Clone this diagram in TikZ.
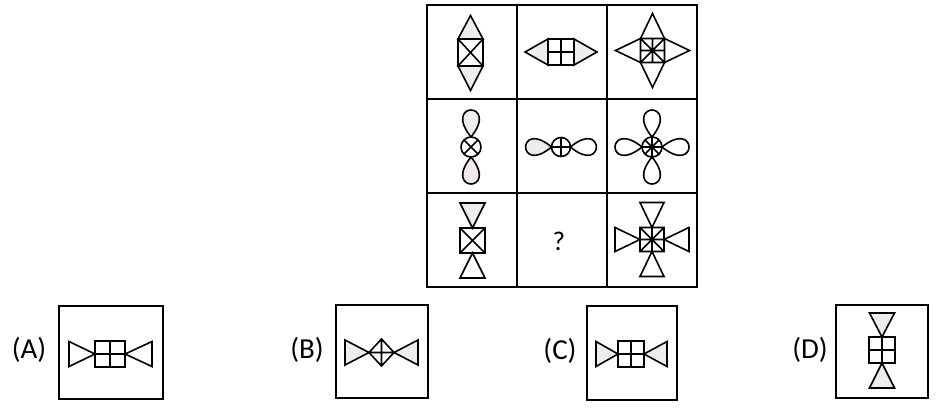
\documentclass[tikz,border=0pt]{standalone}
\usepackage{fontspec}
\setsansfont{Carlito}
\definecolor{shade}{gray}{0.93}
\definecolor{blush}{RGB}{243,232,234}

\begin{document}
\begin{tikzpicture}[x=1pt,y=-1pt,line join=miter,
    fig/.style={line width=1.6pt},
    lit/.style={fill=shade},
    frame/.style={line width=1.8pt},
    tag/.style={font=\sffamily\fontsize{29}{29}\selectfont}]
  \useasboundingbox (0,0) rectangle (943,416);
  % the 3x3 grid
  \draw[frame] (427,5) rectangle (697,287);
  \foreach \x in {517,607} \draw[frame] (\x,5) -- (\x,287);
  \foreach \y in {99,193} \draw[frame] (427,\y) -- (697,\y);

  % row 1: triangles on a square
  \begin{scope}[shift={(470.5,52.5)},fig]
    \filldraw[lit] (-12.5,-13.5) -- (0,-37) -- (12.5,-13.5) -- cycle;
    \filldraw[lit] (-12.5,13.5) -- (0,38) -- (12.5,13.5) -- cycle;
    \draw (-12.5,-13.5) rectangle (12.5,13.5) (-12.5,-13.5) -- (12.5,13.5) (12.5,-13.5) -- (-12.5,13.5);
  \end{scope}
  \begin{scope}[shift={(561,52)},fig]
    \filldraw[lit] (-13,-13) -- (-36,0) -- (-13,13) -- cycle;
    \filldraw[lit] (13,-13) -- (36,0) -- (13,13) -- cycle;
    \draw (-13,-13) rectangle (13,13) (0,-13) -- (0,13) (-13,0) -- (13,0);
  \end{scope}
  \begin{scope}[shift={(652.5,50.5)},fig]
    \draw (-12,-12) -- (0,-37) -- (12,-12) -- (37,0) -- (12,12) -- (0,37) -- (-12,12) -- (-37,0) -- cycle;
    \draw (-12,-12) rectangle (12,12) (-12,-12) -- (12,12) (12,-12) -- (-12,12) (0,-12) -- (0,12) (-12,0) -- (12,0);
    \fill (0,0) circle (2.2pt);
  \end{scope}

  % row 2: loops on a circle
  \begin{scope}[shift={(471,147)},fig]
    \foreach \a/\c in {90/shade,270/blush}
      \filldraw[fill=\c,rotate=\a] (10,0) .. controls (46,-29) and (46,29) .. (10,0);
    \draw (0,0) circle (10pt) (45:10pt) -- (225:10pt) (135:10pt) -- (315:10pt);
  \end{scope}
  \begin{scope}[shift={(561,147)},fig]
    \foreach \a/\c in {0/white,180/shade}
      \filldraw[fill=\c,rotate=\a] (9.5,0) .. controls (44,-29) and (44,29) .. (9.5,0);
    \draw (0,0) circle (9.5pt) (0:9.5pt) -- (180:9.5pt) (90:9.5pt) -- (270:9.5pt);
  \end{scope}
  \begin{scope}[shift={(652,147)},fig]
    \foreach \a in {0,90,180,270}
      \draw[rotate=\a] (10,0) .. controls (46,-29) and (46,29) .. (10,0);
    \draw (0,0) circle (10pt);
    \foreach \a in {0,45,...,135} \draw (\a:10pt) -- (\a+180:10pt);
    \fill (0,0) circle (2.2pt);
  \end{scope}

  % row 3: bow ties on a square
  \begin{scope}[shift={(472.5,240.5)},fig]
    \filldraw[lit] (-12.5,-37.5) -- (12.5,-37.5) -- (0,-12.5) -- cycle;
    \draw (-12.5,37.5) -- (12.5,37.5) -- (0,12.5) -- cycle;
    \draw (-12.5,-12.5) rectangle (12.5,12.5) (-12.5,-12.5) -- (12.5,12.5) (12.5,-12.5) -- (-12.5,12.5);
  \end{scope}
  \node[font=\sffamily\fontsize{27}{27}\selectfont] (qmark) at (559,241) {?};
  \begin{scope}[shift={(652,239.5)},fig]
    \foreach \a in {0,90,180,270}
      \draw[rotate=\a] (12pt,0) -- (37pt,12pt) -- (37pt,-12pt) -- cycle;
    \draw (-12,-12) rectangle (12,12) (-12,-12) -- (12,12) (12,-12) -- (-12,12) (0,-12) -- (0,12) (-12,0) -- (12,0);
    \fill (0,0) circle (2.2pt);
  \end{scope}

  % answer options
  \draw[frame] (59,306) rectangle (163,399);
  \draw[frame] (336,305) rectangle (428,398);
  \draw[frame] (587,306) rectangle (677,400);
  \draw[frame] (836,305) rectangle (928,398);
  \node[tag] (optA) at (29,350) {(A)};
  \node[tag] (optB) at (307,350) {(B)};
  \node[tag] (optC) at (560,351) {(C)};
  \node[tag] (optD) at (810,350) {(D)};

  \begin{scope}[shift={(110,354)},fig]
    \draw (-15,0) -- (-41,-12.5) -- (-41,12.5) -- cycle;
    \draw (15,0) -- (42,-12.5) -- (42,12.5) -- cycle;
    \draw (-15,-13) rectangle (15,13) (0,-13) -- (0,13) (-15,0) -- (15,0);
  \end{scope}
  \begin{scope}[shift={(381.5,352.5)},fig]
    \filldraw[lit] (-12.5,0) -- (-36.5,-12.5) -- (-36.5,12.5) -- cycle;
    \filldraw[lit] (12.5,0) -- (36.5,-12.5) -- (36.5,12.5) -- cycle;
    \draw (-12.5,0) -- (0,-13.5) -- (12.5,0) -- (0,13.5) -- cycle (0,-13.5) -- (0,13.5) (-12.5,0) -- (12.5,0);
  \end{scope}
  \begin{scope}[shift={(631,354)},fig]
    \filldraw[lit] (-13,0) -- (-35,-12.5) -- (-35,12.5) -- cycle;
    \filldraw[lit] (13,0) -- (36,-12.5) -- (36,12.5) -- cycle;
    \draw (-13,-13) rectangle (13,13) (0,-13) -- (0,13) (-13,0) -- (13,0);
  \end{scope}
  \begin{scope}[shift={(882,350)},fig]
    \filldraw[lit] (0,-13) -- (-12.5,-37) -- (12.5,-37) -- cycle;
    \filldraw[lit] (0,13) -- (-12.5,38) -- (12.5,38) -- cycle;
    \draw (-13,-13) rectangle (13,13) (0,-13) -- (0,13) (-13,0) -- (13,0);
  \end{scope}
\end{tikzpicture}
\end{document}
